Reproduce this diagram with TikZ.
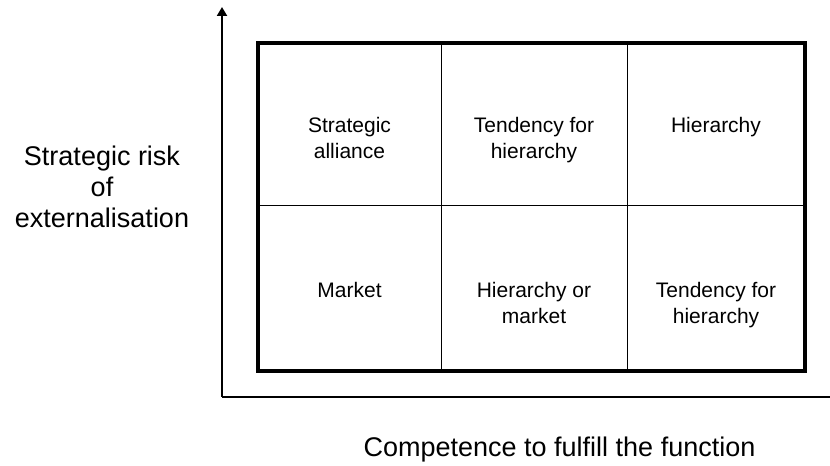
\documentclass[tikz,border=0pt]{standalone}
\usepackage{fontspec}
\setmainfont{Liberation Sans}
\usepackage{tikz}
\usetikzlibrary{arrows.meta,positioning}
\def\cellfont{\fontsize{21bp}{26bp}\selectfont}
\def\axisfont{\fontsize{27bp}{31bp}\selectfont}
\tikzset{
    cell/.style={anchor=north, align=center, inner sep=0pt, font=\cellfont},
    axislabel/.style={align=center, inner sep=0pt, font=\axisfont},
    axis/.style={line width=2bp, -{Triangle[length=9bp,width=10bp]}}
}

\begin{document}
\begin{tikzpicture}[x=1bp,y=1bp]
  \useasboundingbox (0,0) rectangle (830,466);

  % axes
  \coordinate (origin) at (222,69);
  \coordinate (ytip) at (222,459);
  \coordinate (xtip) at (843,69);
  \draw[axis] (origin) -- (ytip);
  \draw[axis] (origin) -- (xtip);

  % matrix of the six cells
  \coordinate (box-sw) at (258,95);
  \coordinate (box-ne) at (805,423);
  \draw[line width=1bp] (441,95) -- (441,423);
  \draw[line width=1bp] (627,95) -- (627,423);
  \draw[line width=1bp] (258,260) -- (805,260);
  \draw[line width=4bp] (box-sw) rectangle (box-ne);

  \node[cell] (alliance) at (349.5,349) {Strategic\\alliance};
  \node[cell] (tendtop) at (534,349) {Tendency for\\hierarchy};
  \node[cell] (hier) at (716,349) {Hierarchy};
  \node[cell] (market) at (349.5,184) {Market};
  \node[cell] (hiermarket) at (534,184) {Hierarchy or\\market};
  \node[cell] (tendbottom) at (716,184) {Tendency for\\hierarchy};

  % axis labels
  \node[axislabel, anchor=north] (risk) at (102,320) {Strategic risk\\of\\externalisation};
  \node[axislabel, anchor=base] (competence) at (559.5,9) {Competence to fulfill the function};

\end{tikzpicture}
\end{document}
